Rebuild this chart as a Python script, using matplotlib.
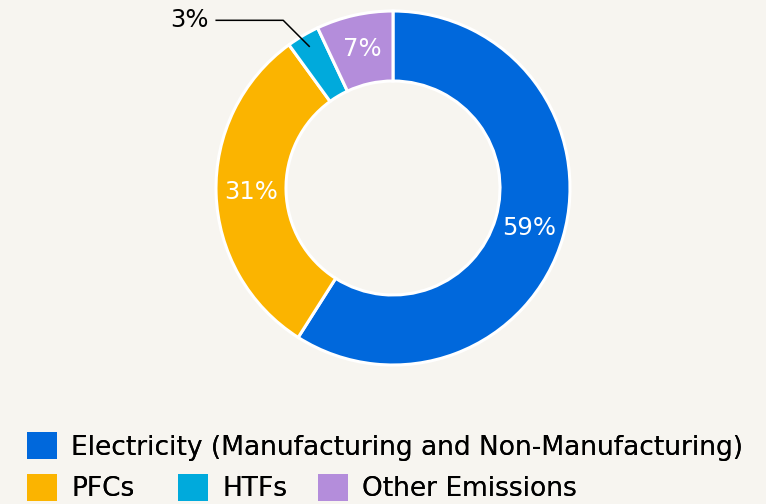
import matplotlib
matplotlib.use("Agg")
import matplotlib.pyplot as plt
from matplotlib.patches import Patch
import numpy as np

categories = ["Electricity (Manufacturing and Non-Manufacturing)", "PFCs", "HTFs", "Other Emissions"]
values = [59, 31, 3, 7]
colors = ["#0068dc", "#fbb400", "#00aadc", "#b48ddb"]
bg = "#f7f5f0"

plt.rcParams['font.family'] = ['DejaVu Sans']

fig = plt.figure(figsize=(7.66, 5.04), dpi=100, facecolor=bg)
W, H = 766, 504
cx, cy, R = 393, 188, 177
ax = fig.add_axes([(cx - R) / W, (H - cy - R) / H, 2 * R / W, 2 * R / H])
ax.set_facecolor(bg)

wedges, _ = ax.pie(values, colors=colors, startangle=90, counterclock=False,
                   radius=1.0, wedgeprops=dict(width=70 / 177, edgecolor='white', linewidth=2.2))
ax.set_xlim(-1, 1)
ax.set_ylim(-1, 1)
ax.set_aspect('equal')
ax.axis('off')

mid_r = (1 + (1 - 70 / 177)) / 2
for w, v in zip(wedges, values):
    ang = np.deg2rad((w.theta1 + w.theta2) / 2)
    if v >= 5:
        ax.text(mid_r * np.cos(ang), mid_r * np.sin(ang), f"{v}%", color='white',
                ha='center', va='center', fontsize=17.5)
    else:
        x0, y0 = 0.93 * np.cos(ang), 0.93 * np.sin(ang)
        ex = x0 - 26 / 177
        ey = y0 + 26 / 177
        tx = ex - 67 / 177
        ax.plot([x0, ex, tx], [y0, ey, ey], color='black', lw=1.1, clip_on=False)
        ax.text(tx - 8 / 177, ey, f"{v}%", color='black', ha='right', va='center',
                fontsize=17.5)

fs = 19
fpx = fs * 100 / 72
handles = [Patch(facecolor=c, edgecolor='none') for c in colors]
# (left x of swatch, row centre y) in pixels
slots = [(27, 446.5), (27, 488), (178, 488), (318, 488)]
for h, lab, (lx, ly) in zip(handles, categories, slots):
    leg = fig.legend([h], [lab], loc='center left',
                     bbox_to_anchor=(lx / W, 1 - ly / H), bbox_transform=fig.transFigure,
                     frameon=False, fontsize=fs, handlelength=30 / fpx, handleheight=31 / fpx,
                     handletextpad=14 / fpx, borderpad=0, borderaxespad=0)
    fig.add_artist(leg)

fig.savefig("out.png", dpi=100, facecolor=bg)
